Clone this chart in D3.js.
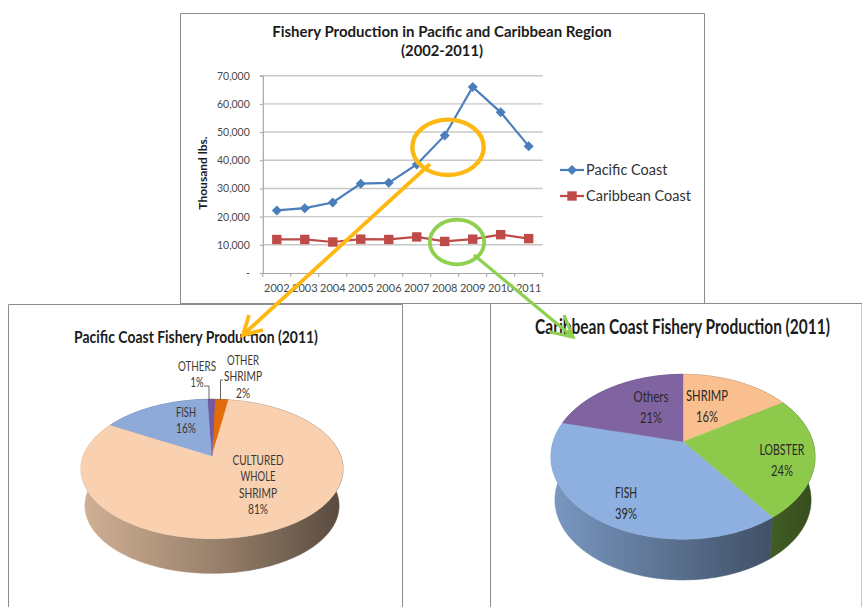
<!DOCTYPE html>
<html>
<head>
<meta charset="utf-8">
<script src="https://cdn.jsdelivr.net/npm/d3@7"></script>
<style>
  html, body { margin: 0; padding: 0; background: #fff; }
  svg { display: block; font-family: Lato, "Open Sans", sans-serif; }
</style>
</head>
<body>
<svg id="chart" width="862" height="607"></svg>
<script>
// line chart values, thousand lbs
var years = ["2002", "2003", "2004", "2005", "2006", "2007", "2008", "2009", "2010", "2011"];
var pacificValues = [22200, 23000, 25000, 31700, 32000, 38500, 48800, 66000, 57000, 45000];
var caribbeanValues = [11900, 11900, 11000, 12000, 11900, 12800, 11200, 12000, 13600, 12200];
var yTicks = [0, 10000, 20000, 30000, 40000, 50000, 60000, 70000];

// pies, clockwise from 12 o'clock
var pacificNames = ["OTHER SHRIMP", "CULTURED WHOLE SHRIMP", "FISH", "OTHERS"];
var pacificShares = [2, 81, 16, 1];
var caribbeanNames = ["SHRIMP", "LOBSTER", "FISH", "Others"];
var caribbeanShares = [16, 24, 39, 21];

var svg = d3.select("#chart");
var defs = svg.append("defs");

// panel frames
function frame(x0, y0, x1, y1) {
  svg.append("path")
      .attr("d", "M" + x0 + "," + y1 + "V" + y0 + "H" + x1 + "V" + y1)
      .attr("fill", "none")
      .attr("stroke", "#8c8c8c")
      .attr("stroke-width", 1);
}
frame(8.5, 304.5, 402.5, 607);
frame(490.5, 303.5, 862, 607);
frame(180.5, 13.5, 704.5, 303.5);
svg.append("line").attr("x1", 180).attr("x2", 705).attr("y1", 303.5).attr("y2", 303.5).attr("stroke", "#8c8c8c");

// ---- line chart ----
var plotLeft = 262.8, plotRight = 542.7;
var x = d3.scaleBand().domain(years).range([plotLeft, plotRight]);
var y = d3.scaleLinear().domain([0, 70000]).range([273, 75.7]);

svg.append("g").selectAll("line")
    .data(yTicks.slice(1))
  .enter().append("line")
    .attr("x1", plotLeft).attr("x2", plotRight)
    .attr("y1", function(d) { return y(d); })
    .attr("y2", function(d) { return y(d); })
    .attr("stroke", "#c8c8c8")
    .attr("stroke-width", 1.4);

var yAxis = svg.append("g")
    .attr("transform", "translate(" + plotLeft + ",0)")
    .call(d3.axisLeft(y).tickValues(yTicks).tickSize(3).tickPadding(10)
      .tickFormat(function(d) { return d == 0 ? "-" : d3.format(",")(d); }));
var xAxis = svg.append("g")
    .attr("transform", "translate(0,273)")
    .call(d3.axisBottom(x).tickSize(0).tickPadding(11));

[yAxis, xAxis].forEach(function(a) {
  a.selectAll(".domain").attr("stroke", "#a6a6a6").attr("stroke-width", 1.2);
  a.selectAll("line").attr("stroke", "#a6a6a6");
  a.selectAll("text").attr("fill", "#4a4a4a").attr("font-family", "Lato");
});
yAxis.selectAll("text").attr("font-size", 10.5);
xAxis.selectAll("text").attr("font-size", 11);

// excel style ticks sit between the categories
xAxis.selectAll(".edge")
    .data(years.concat(["end"]))
  .enter().append("line")
    .attr("class", "edge")
    .attr("x1", function(d, i) { return plotLeft + i * x.step(); })
    .attr("x2", function(d, i) { return plotLeft + i * x.step(); })
    .attr("y1", 0).attr("y2", 4)
    .attr("stroke", "#a6a6a6");

var line = d3.line()
    .x(function(d, i) { return x(years[i]) + x.bandwidth() / 2; })
    .y(function(d) { return y(d); });

var diamond = d3.symbol().type(d3.symbolSquare).size(50);
var square = d3.symbol().type(d3.symbolSquare).size(88);

function series(values, color, sym, rotate) {
  svg.append("path")
      .attr("d", line(values))
      .attr("fill", "none")
      .attr("stroke", color)
      .attr("stroke-width", 2.2);
  svg.append("g").selectAll("path")
      .data(values)
    .enter().append("path")
      .attr("d", sym)
      .attr("fill", color)
      .attr("transform", function(d, i) {
        return "translate(" + (x(years[i]) + x.bandwidth() / 2) + "," + y(d) + ") rotate(" + rotate + ")";
      });
}
series(pacificValues, "#4a7ebb", diamond, 45);
series(caribbeanValues, "#be4b48", square, 0);

function legendRow(py, label, color, sym, rotate) {
  svg.append("line").attr("x1", 560).attr("x2", 584).attr("y1", py).attr("y2", py)
      .attr("stroke", color).attr("stroke-width", 2.2);
  svg.append("path").attr("d", sym).attr("fill", color)
      .attr("transform", "translate(572," + py + ") rotate(" + rotate + ")");
  svg.append("text").attr("x", 586).attr("y", py + 5).attr("font-size", 14.5)
      .attr("fill", "#333").text(label);
}
legendRow(170, "Pacific Coast", "#4a7ebb", diamond, 45);
legendRow(196, "Caribbean Coast", "#be4b48", square, 0);

// text squeezed sideways to a measured width, the pictures were pasted in narrower
function fitted(cx, by, size, width, s, weight, color) {
  var t = svg.append("text")
      .attr("text-anchor", "middle")
      .attr("font-size", size)
      .attr("font-weight", weight)
      .attr("fill", color)
      .text(s);
  var sx = width / t.node().getComputedTextLength();
  t.attr("transform", "translate(" + cx + "," + by + ") scale(" + sx + ",1)");
}
function title(cx, by, size, width, s) {
  fitted(cx, by, size, width, s, "bold", "#1c1c1c");
}
title(442, 37, 14.5, 340, "Fishery Production in Pacific and Caribbean Region");
title(442, 56, 14.5, 82, "(2002-2011)");

svg.append("text")
    .attr("transform", "translate(207,173) rotate(-90)")
    .attr("text-anchor", "middle")
    .attr("font-size", 12)
    .attr("font-weight", "bold")
    .attr("fill", "#1c1c1c")
    .text("Thousand lbs.");

// ---- pies ----
// the tilted disc is a circle seen in perspective, so the apex is above the rim's centre
function rimPoint(p, a, lower) {
  var ux = Math.sin(a), uy = -Math.cos(a), d = 1 - p.k * uy, s = lower ? p.shrink : 1;
  return [p.cx + s * p.A * ux / d, p.apexY + (lower ? p.depth : 0) + s * p.B * uy / d];
}

function rimArc(p, a0, a1, lower) {
  var n = Math.max(2, Math.ceil((a1 - a0) / 0.02)), pts = [];
  for (var i = 0; i <= n; i++) pts.push(rimPoint(p, a0 + (a1 - a0) * i / n, lower));
  return pts;
}

function drawPie(p, shares, colors, id) {
  var arcs = d3.pie().sort(null)
      .startAngle(p.rotate).endAngle(p.rotate + 2 * Math.PI)(shares);
  var g = svg.append("g");
  var path = d3.line();

  // side wall, shaded left to right
  arcs.forEach(function(d, i) {
    var c = d3.rgb(colors[i]);
    var grad = defs.append("linearGradient")
        .attr("id", id + i)
        .attr("gradientUnits", "userSpaceOnUse")
        .attr("x1", p.cx - p.A).attr("x2", p.cx + p.A).attr("y1", 0).attr("y2", 0);
    p.shade.forEach(function(f, j) {
      grad.append("stop")
          .attr("offset", j / (p.shade.length - 1))
          .attr("stop-color", d3.rgb(c.r * f, c.g * f, c.b * f));
    });
    var wall = rimArc(p, d.startAngle, d.endAngle, false)
        .concat(rimArc(p, d.startAngle, d.endAngle, true).reverse());
    g.append("path")
        .attr("d", path(wall) + "Z")
        .attr("fill", "url(#" + id + i + ")")
        .attr("stroke", "url(#" + id + i + ")")
        .attr("stroke-width", 0.6);
  });

  // top face
  arcs.forEach(function(d, i) {
    var face = [[p.cx, p.apexY]].concat(rimArc(p, d.startAngle, d.endAngle, false));
    g.append("path")
        .attr("d", path(face) + "Z")
        .attr("fill", colors[i])
        .attr("stroke", colors[i])
        .attr("stroke-width", 0.4);
  });
}

drawPie({cx: 212, apexY: 456, A: 128.7, B: 67.3, k: 0.1865, depth: 37.1, shrink: 0.97,
         rotate: 1.5 * Math.PI / 180, shade: [0.84, 0.62, 0.36]},
        pacificShares, ["#e36c0a", "#f9d1b0", "#8eaad8", "#7459a4"], "pac");
drawPie({cx: 683, apexY: 441.7, A: 129.8, B: 79.7, k: 0.183, depth: 43.6, shrink: 0.97,
         rotate: 0, shade: [0.86, 0.62, 0.38]},
        caribbeanShares, ["#fabf8f", "#8dca4b", "#8db0e0", "#8064a2"], "car");

title(196, 343, 16.5, 244, "Pacific Coast Fishery Production (2011)");
title(682.5, 334, 20, 295, "Caribbean Coast Fishery Production (2011)");

// slice labels: name lines then the share
var pacificLabels = [
  {lines: ["OTHER", "SHRIMP"], share: pacificShares[0], x: 243, y: 365, w: [32, 38, 14]},
  {lines: ["CULTURED", "WHOLE", "SHRIMP"], share: pacificShares[1], x: 258, y: 465, w: [51, 35, 38, 20]},
  {lines: ["FISH"], share: pacificShares[2], x: 186, y: 417, w: [20, 20]},
  {lines: ["OTHERS"], share: pacificShares[3], x: 197, y: 371, w: [38, 13]}
];
var caribbeanLabels = [
  {lines: [caribbeanNames[0]], share: caribbeanShares[0], x: 707, y: 401, w: [42, 22]},
  {lines: [caribbeanNames[1]], share: caribbeanShares[1], x: 782, y: 455, w: [45, 22]},
  {lines: [caribbeanNames[2]], share: caribbeanShares[2], x: 626, y: 498, w: [22, 22]},
  {lines: [caribbeanNames[3]], share: caribbeanShares[3], x: 651, y: 402, w: [35, 22]}
];

function sliceLabels(list, size, gap, color) {
  list.forEach(function(l) {
    l.lines.concat([l.share + "%"]).forEach(function(s, i) {
      fitted(l.x, l.y + i * gap, size, l.w[i], s, "normal", color);
    });
  });
}
sliceLabels(pacificLabels, 12.5, 16.3, "#3a3634");
sliceLabels(caribbeanLabels, 15, 21, "#2b2826");

// leader lines of the two thin slices
svg.append("path").attr("d", "M204,386H209V399M223,380H220.5V400")
    .attr("fill", "none").attr("stroke", "#666").attr("stroke-width", 1);

// ---- call-outs drawn over the charts ----
function callout(cx, cy, rx, ry, from, to, wing1, wing2, color, w) {
  svg.append("ellipse")
      .attr("cx", cx).attr("cy", cy).attr("rx", rx).attr("ry", ry)
      .attr("fill", "none").attr("stroke", color).attr("stroke-width", w);
  svg.append("path")
      .attr("d", "M" + from + "L" + to + "M" + wing1 + "L" + to + "L" + wing2)
      .attr("fill", "none").attr("stroke", color).attr("stroke-width", w - 0.6);
}
callout(448, 147.3, 35.7, 27.7, [430, 164], [243, 335], [249, 315], [263, 330], "#fdb813", 4.4);
callout(457, 242, 27.2, 22.3, [474, 255], [573, 337], [564, 315], [550, 332], "#8ed04f", 3.8);
</script>
</body>
</html>
